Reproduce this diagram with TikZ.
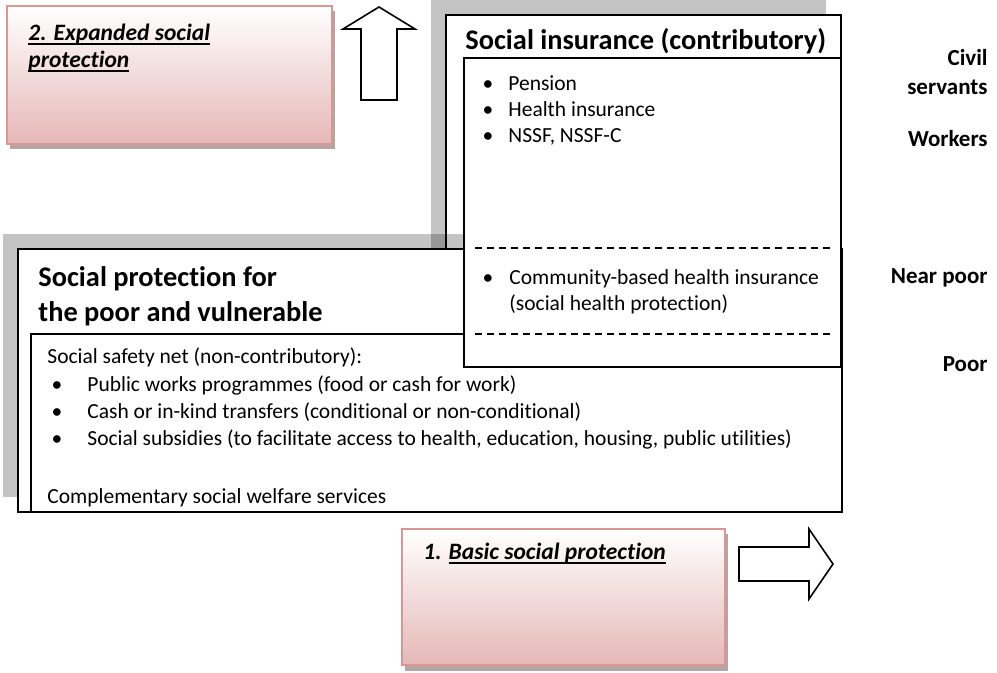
\documentclass[tikz,border=0pt]{standalone}
\usepackage{fontspec}
\setmainfont[Ligatures=NoCommon]{Carlito}
\definecolor{pinkbot}{HTML}{E5B8B7}
\definecolor{pinkline}{HTML}{D99694}
\definecolor{pinkshadow}{HTML}{B5A5A5}
\def\strich#1{\setbox0\hbox{#1}\rlap{\rule[-1.9pt]{\wd0}{0.75pt}}\box0}
\begin{document}
\begin{tikzpicture}[x=0.5pt,y=-0.5pt,
  txt/.style={anchor=base west,inner sep=0pt,font=\fontsize{10.75}{13}\selectfont},
  dotb/.style={anchor=base,inner sep=0pt,font=\fontsize{10.75}{13}\selectfont},
  lbl/.style={anchor=base east,inner sep=0pt,font=\fontsize{11.5}{14}\selectfont\bfseries},
  ttl/.style={anchor=base west,inner sep=0pt,font=\fontsize{14.2}{17}\selectfont\bfseries},
  pnk/.style={anchor=base west,inner sep=0pt,font=\fontsize{11.75}{14}\selectfont\bfseries\itshape},
  shd/.style={fill=black,opacity=0.23},
  box/.style={draw=black,line width=1pt,fill=white},
  pinkbox/.style={top color=white,bottom color=pinkbot,draw=pinkline,line width=1pt},
  blockarrow/.style={draw=black,line width=0.8pt,fill=white,line join=miter}]
\useasboundingbox (0,0) rectangle (997,673);
% pink boxes
\fill[pinkshadow] (10,11) rectangle (335,149);
\shadedraw[pinkbox] (7,6) rectangle (332,144);
\fill[pinkshadow] (405,534) rectangle (728,671);
\shadedraw[pinkbox] (402,529) rectangle (725,665);
\node[pnk] (exp) at (28,41) {\strich{2. Expanded social}};
\node[pnk] (expb) at (28,68) {\strich{protection}};
\node[pnk] (bas) at (423,560) {1. \strich{Basic social protection}};
% block arrows
\draw[blockarrow] (361,100) -- (361,29) -- (343,29) -- (379,7) -- (415,29) -- (397,29) -- (397,100) -- cycle;
\draw[blockarrow] (739,547) -- (809,547) -- (809,529) -- (833,564) -- (809,599) -- (809,581) -- (739,581) -- cycle;
% social insurance
\fill[shd] (431,0) rectangle (826,249);
\draw[box] (446,15) rectangle (841,264);
\node[ttl] (sititle) at (465,50) {Social insurance (contributory)};
% social protection for the poor
\fill[shd] (3,234) rectangle (827,497);
\draw[box] (18,249) rectangle (842,512);
\draw[line width=1pt] (31,512) -- (31,334) -- (464,334);
\node[ttl] (sptitle) at (38,287) {Social protection for};
\node[ttl] (sptitleb) at (38,322) {the poor and vulnerable};
\node[txt] (ssn) at (47,364) {Social safety net (non-contributory):};
\foreach \t/\y/\n in {Public works programmes (food or cash for work)/392/pw,
    Cash or in-kind transfers (conditional or non-conditional)/419/cash,
    {Social subsidies (to facilitate access to health, education, housing, public utilities)}/446/subs}{
  \node[dotb] (\n-dot) at (57,\y) {\textbullet};
  \node[txt] (\n) at (87,\y) {\t};
}
\node[txt] (compl) at (47,504) {Complementary social welfare services};
% inner box of social insurance
\draw[box] (464,58) rectangle (841,367);
\draw[line width=0.6pt,dash pattern=on 3.5pt off 2.5pt] (475,248) -- (832,248);
\draw[line width=0.6pt,dash pattern=on 3.5pt off 2.5pt] (475,334) -- (832,334);
\foreach \t/\y/\n in {Pension/91/pen,Health insurance/117/hlth,{NSSF, NSSF-C}/143/nssf}{
  \node[dotb] (\n-dot) at (488,\y) {\textbullet};
  \node[txt] (\n) at (508,\y) {\t};
}
\node[dotb] (cbhi-dot) at (488,285) {\textbullet};
\node[txt] (cbhi) at (509,285) {Community-based health insurance};
\node[txt] (cbhib) at (509,311) {(social health protection)};
% groups
\node[lbl] (civ) at (988,66) {Civil};
\node[lbl] (serv) at (988,95) {servants};
\node[lbl] (work) at (988,147) {Workers};
\node[lbl] (near) at (988,284) {Near poor};
\node[lbl] (poor) at (988,372) {Poor};
\end{tikzpicture}
\end{document}
